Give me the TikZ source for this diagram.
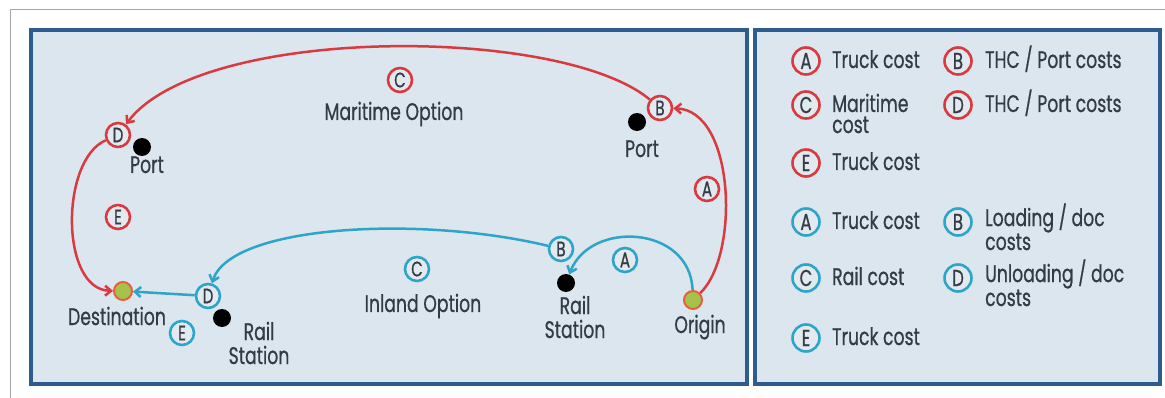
\documentclass[tikz,border=0pt]{standalone}
\usepackage{fontspec}
\setmainfont[FakeStretch=0.72,FakeBold=0.6]{Poppins}
\usetikzlibrary{arrows.meta}
\definecolor{seared}{HTML}{D93A3F}
\definecolor{railblue}{HTML}{2EA5C8}
\definecolor{panelblue}{HTML}{2D5C8E}
\definecolor{panelfill}{HTML}{DCE6EE}
\definecolor{tagfill}{HTML}{E2E9EF}
\definecolor{ink}{HTML}{333B46}
\definecolor{endgreen}{HTML}{A6C24A}
\definecolor{endring}{HTML}{E5603F}
\begin{document}
\begin{tikzpicture}[x=1pt,y=-1pt,
    tag/.style={circle,draw,line width=2.6pt,fill=tagfill,minimum size=24pt,inner sep=0pt,text=ink,font=\fontsize{21}{21}\selectfont},
    redtag/.style={tag,draw=seared},
    bluetag/.style={tag,draw=railblue},
    keytag/.style={minimum size=27pt,font=\fontsize{23}{23}\selectfont},
    hub/.style={circle,fill=black,minimum size=18pt,inner sep=0pt},
    terminal/.style={circle,fill=endgreen,draw=endring,line width=2pt,minimum size=18pt,inner sep=0pt},
    lbl/.style={text=ink,font=\fontsize{24}{24}\selectfont,align=center,inner sep=0pt,anchor=base},
    keytext/.style={text=ink,font=\fontsize{24}{21}\selectfont,align=left,inner sep=0pt,anchor=base west},
    route/.style={line width=2.5pt,-{Straight Barb[length=6pt,width=10pt]}}]
\useasboundingbox (0,0) rectangle (1165,398);
\draw[gray!70,line width=1pt] (10,398) -- (10,10) -- (1165,10);

% panels
\draw[panelblue,fill=panelfill,line width=3.5pt] (31,30) rectangle (747,384);
\draw[panelblue,fill=panelfill,line width=3.5pt] (755,30) rectangle (1160,384);

% places
\node[terminal] (org) at (693,300) {};
\node[terminal] (dst) at (123,291) {};
\node[hub] (portR) at (637,122) {};
\node[hub] (portL) at (142,147) {};
\node[hub] (railR) at (566,283) {};
\node[hub] (railL) at (222,318) {};

\node[lbl] at (700,333) {Origin};
\node[lbl] at (117,325) {Destination};
\node[lbl] at (642,157) {Port};
\node[lbl] at (147,173) {Port};
\node[lbl] at (575,338) {Rail\\Station};
\node[lbl] at (259,364) {Rail\\Station};
\node[lbl] at (394,120) {Maritime Option};
\node[lbl] at (423,312) {Inland Option};

% cost tags
\node[redtag] (rA) at (707,189) {A};
\node[redtag] (rB) at (660,108) {B};
\node[redtag] (rC) at (400,80) {C};
\node[redtag] (rD) at (118,135) {D};
\node[redtag] (rE) at (118,217) {E};
\node[bluetag] (bA) at (625,260) {A};
\node[bluetag] (bB) at (561,249) {B};
\node[bluetag] (bC) at (417,269) {C};
\node[bluetag] (bD) at (208,296) {D};
\node[bluetag] (bE) at (182,333) {E};

% routes
\draw[route,seared] (org) .. controls (740,255) and (735,110) .. (rB);
\draw[route,seared] (rB) .. controls (560,25) and (200,25) .. (rD);
\draw[route,seared] (rD) .. controls (60,160) and (60,290) .. (dst);
\draw[route,railblue] (org) .. controls (690,225) and (590,220) .. (railR);
\draw[route,railblue] (bB) .. controls (420,215) and (230,225) .. (bD);
\draw[route,railblue] (bD) -- (dst);

% key
\node[redtag,keytag] (keyrA) at (806,61) {A};
\node[keytext] at (832,68) {Truck cost};
\node[redtag,keytag] (keyrB) at (958,61) {B};
\node[keytext] at (985,68) {THC / Port costs};
\node[redtag,keytag] (keyrC) at (806,105) {C};
\node[keytext] at (832,133) {Maritime\\cost};
\node[redtag,keytag] (keyrD) at (958,105) {D};
\node[keytext] at (985,112) {THC / Port costs};
\node[redtag,keytag] (keyrE) at (806,163) {E};
\node[keytext] at (832,170) {Truck cost};
\node[bluetag,keytag] (keybA) at (806,222) {A};
\node[keytext] at (832,229) {Truck cost};
\node[bluetag,keytag] (keybB) at (958,222) {B};
\node[keytext] at (985,250) {Loading / doc\\costs};
\node[bluetag,keytag] (keybC) at (806,278) {C};
\node[keytext] at (832,285) {Rail cost};
\node[bluetag,keytag] (keybD) at (958,278) {D};
\node[keytext] at (985,306) {Unloading / doc\\costs};
\node[bluetag,keytag] (keybE) at (806,338) {E};
\node[keytext] at (832,345) {Truck cost};
\end{tikzpicture}
\end{document}
